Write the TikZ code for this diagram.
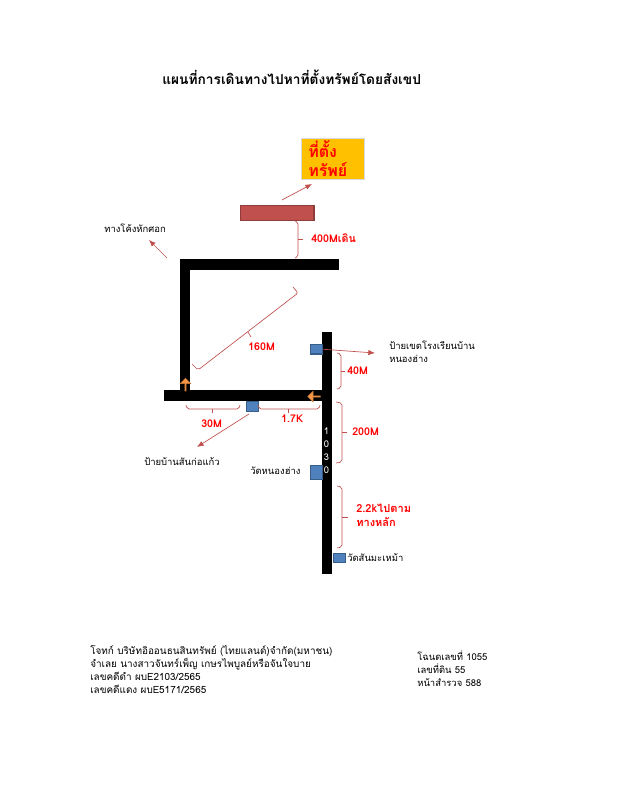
\documentclass[tikz,border=0pt]{standalone}
\usepackage{fontspec}
\setmainfont[Script=Thai]{Loma}
\usetikzlibrary{shapes.arrows, arrows.meta}

\definecolor{linered}{HTML}{C0504D}
\definecolor{signblue}{HTML}{4F81BD}
\definecolor{signedge}{HTML}{385D8A}
\definecolor{turnorange}{HTML}{F79646}
\definecolor{boxyellow}{HTML}{FFC000}

\tikzset{
	label text/.style = {inner sep = 0, anchor = west, align = left, font = \fontsize{7.1}{9.75}\selectfont},
	dist text/.style = {inner sep = 0, anchor = west, align = left, text = red, font = \fontsize{8}{10.5}\selectfont\bfseries},
	sign box/.style = {draw = signedge, fill = signblue, line width = 0.9 pt, inner sep = 0, anchor = north west},
	pointer/.style = {linered, ->, line width = 0.5 pt},
	bracket/.style = {linered, line width = 0.5 pt, rounded corners = 1.5 pt},
	turn arrow/.style = {single arrow, draw = turnorange!80!black, fill = turnorange, line width = 0.4 pt, inner sep = 0,
		minimum height = 9.5 pt, minimum width = 8 pt, single arrow head extend = 1.3 pt}
}

\begin{document}
\begin{tikzpicture}[> = {Latex[length=5pt, width=4pt]}, x = 0.75 pt, y = -0.75 pt]

	\useasboundingbox (0, 0) rectangle (619, 800);

	% Title

	\node (title) [inner sep = 0, anchor = west, font = \fontsize{10.3}{12}\selectfont\bfseries] at (162, 77.5)
		{แผนที่การเดินทางไปหาที่ตั้งทรัพย์โดยสังเขป};

	% Property location

	\node (place) [draw = black!15, fill = boxyellow, line width = 0.5 pt, minimum width = 47 pt, minimum height = 31 pt, inner sep = 0, anchor = north west] at (301, 138) {};
	\node (placetext) [inner sep = 0, anchor = west, align = left, text = red, font = \fontsize{12}{14.5}\selectfont\bfseries] at (308, 158.5) {ที่ตั้ง\\ทรัพย์};

	\node (plot) [draw = linered!75!black, fill = linered, line width = 1 pt, minimum width = 55 pt, minimum height = 11 pt, inner sep = 0, anchor = north west] at (240, 205) {};

	\coordinate (plotout) at (282, 200);
	\coordinate (placein) at (312, 184);
	\draw [pointer] (plotout) -- (placein);

	% Roads

	\fill (180, 259) rectangle (339, 270);
	\fill (180, 259) rectangle (190, 391);
	\fill (164, 390) rectangle (323, 401);
	\fill (322, 332) rectangle (332, 574);

	% Road number

	\foreach \n/\y in {1/431.5, 0/444.5, 3/457, 0/470}
		\node [inner sep = 0, text = white, font = \fontsize{7}{8}\selectfont] at (326.5, \y) {\n};

	% Direction of travel

	\node (turnup) [turn arrow, shape border rotate = 90] at (185.5, 385) {};
	\node (turnleft) [turn arrow, shape border rotate = 180] at (314.5, 396.5) {};

	% Signs

	\node (signschool) [sign box, minimum width = 9 pt, minimum height = 7 pt] at (310, 344) {};
	\node (signvillage) [sign box, minimum width = 9 pt, minimum height = 7.5 pt] at (245.5, 401) {};
	\node (signtemple) [sign box, minimum width = 9 pt, minimum height = 10.5 pt] at (310, 465) {};
	\node (signmahem) [sign box, minimum width = 9 pt, minimum height = 7 pt] at (332.5, 552.5) {};

	% Sign and bend labels

	\node (bend) [label text] at (104, 228.5) {ทางโค้งหักศอก};
	\node (school) [label text] at (389, 352) {ป้ายเขตโรงเรียนบ้าน\\หนองฮ่าง};
	\node (village) [label text] at (144, 461.5) {ป้ายบ้านสันก่อแก้ว};
	\node (temple) [label text] at (250, 471) {วัดหนองฮ่าง};
	\node (mahem) [label text] at (347, 558) {วัดสันมะเหม้า};

	% Pointers

	\coordinate (bendout) at (167, 258);
	\coordinate (bendin) at (149, 240);
	\coordinate (schoolin) at (375, 353);
	\coordinate (villageout) at (249, 414);
	\coordinate (villagein) at (197, 447);

	\draw [pointer] (bendout) -- (bendin);
	\draw [pointer] (signschool.east) -- (schoolin);
	\draw [pointer] (villageout) -- (villagein);

	% Distance brackets

	\draw [bracket] (295, 221) -- (298, 222) -- (298, 257) -- (295, 258);
	\draw [bracket] (298, 239) -- (303, 239);

	\draw [bracket] (293, 287) -- (298, 293) -- (198, 370) -- (192, 364);
	\draw [bracket] (248, 332) -- (251, 337);

	\draw [bracket] (337, 353) -- (341, 354) -- (341, 388) -- (337, 389);
	\draw [bracket] (341, 371) -- (345, 371);

	\draw [bracket] (336, 402) -- (342, 403) -- (342, 462) -- (336, 463);
	\draw [bracket] (342, 432) -- (347, 432);

	\draw [bracket] (186, 405) -- (187, 409) -- (239, 409) -- (240, 405);
	\draw [bracket] (212, 409) -- (212, 413);

	\draw [bracket] (258, 405) -- (259, 409) -- (319, 409) -- (320, 405);
	\draw [bracket] (288, 409) -- (288, 413);

	\draw [bracket] (337, 486) -- (342, 487) -- (342, 547) -- (337, 548);
	\draw [bracket] (342, 517) -- (348, 517);

	% Distances

	\node (dist400) [dist text] at (311, 238.5) {400Mเดิน};
	\node (dist160) [dist text] at (248, 347) {160M};
	\node (dist40) [dist text] at (347, 371) {40M};
	\node (dist200) [dist text] at (352, 432) {200M};
	\node (dist30) [dist text] at (201, 423.5) {30M};
	\node (dist17) [dist text] at (281, 419) {1.7K};
	\node (dist22) [dist text, font = \fontsize{8.3}{10.5}\selectfont\bfseries] at (356, 515) {2.2kไปตาม\\ทางหลัก};

	% Case details

	\node (casetext) [label text, font = \fontsize{7.45}{9.75}\selectfont] at (90, 670)
		{โจทก์ บริษัทอิออนธนสินทรัพย์ (ไทยแลนด์)จำกัด(มหาชน)\\
		จำเลย นางสาวจันทร์เพ็ญ เกษรไพบูลย์หรือจันใจบาย\\
		เลขคดีดำ ผบE2103/2565\\
		เลขคดีแดง ผบE5171/2565};

	\node (landtext) [label text] at (417, 669)
		{โฉนดเลขที่ 1055\\
		เลขที่ดิน  55\\
		หน้าสำรวจ 588};

\end{tikzpicture}
\end{document}
